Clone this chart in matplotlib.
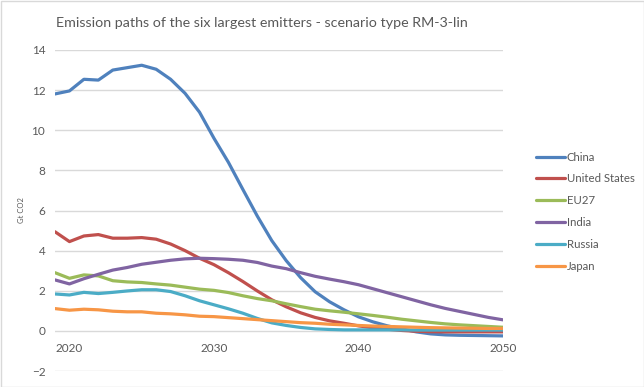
import matplotlib.pyplot as plt
from matplotlib.patches import Rectangle
import numpy as np

years = np.arange(2019, 2051)

china = [11.81, 11.96, 12.54, 12.50, 13.00, 13.12, 13.24, 13.04, 12.54, 11.84,
         10.90, 9.60, 8.40, 7.05, 5.72, 4.50, 3.50, 2.65, 1.95, 1.45,
         1.05, 0.70, 0.45, 0.25, 0.10, -0.05, -0.15, -0.20, -0.22, -0.23,
         -0.24, -0.25]
united_states = [4.94, 4.45, 4.73, 4.80, 4.62, 4.62, 4.65, 4.57, 4.33, 4.00,
                 3.62, 3.30, 2.90, 2.46, 1.99, 1.55, 1.20, 0.90, 0.67, 0.50,
                 0.38, 0.25, 0.15, 0.08, 0.02, -0.02, -0.04, -0.05, -0.05, -0.05,
                 -0.05, -0.05]
eu27 = [2.90, 2.62, 2.79, 2.74, 2.50, 2.44, 2.41, 2.34, 2.28, 2.18,
        2.08, 2.02, 1.91, 1.75, 1.61, 1.50, 1.35, 1.21, 1.08, 1.00,
        0.93, 0.85, 0.77, 0.68, 0.58, 0.50, 0.42, 0.35, 0.30, 0.26,
        0.22, 0.18]
india = [2.54, 2.34, 2.60, 2.82, 3.03, 3.16, 3.32, 3.42, 3.52, 3.59,
         3.62, 3.60, 3.57, 3.52, 3.41, 3.23, 3.10, 2.90, 2.72, 2.58,
         2.45, 2.30, 2.10, 1.90, 1.70, 1.50, 1.30, 1.12, 0.97, 0.82,
         0.67, 0.55]
russia = [1.84, 1.79, 1.92, 1.86, 1.92, 1.99, 2.05, 2.05, 1.96, 1.75,
          1.50, 1.30, 1.10, 0.88, 0.62, 0.40, 0.27, 0.17, 0.10, 0.07,
          0.05, 0.05, 0.05, 0.05, 0.05, 0.04, 0.04, 0.04, 0.04, 0.04,
          0.04, 0.04]
japan = [1.11, 1.03, 1.08, 1.05, 0.98, 0.95, 0.95, 0.88, 0.85, 0.80,
         0.73, 0.71, 0.66, 0.61, 0.56, 0.51, 0.46, 0.41, 0.38, 0.33,
         0.30, 0.27, 0.24, 0.22, 0.20, 0.18, 0.16, 0.15, 0.14, 0.13,
         0.12, 0.12]

series = [
    ("China", china, "#4F81BD"),
    ("United States", united_states, "#C0504D"),
    ("EU27", eu27, "#9BBB59"),
    ("India", india, "#8064A2"),
    ("Russia", russia, "#4BACC6"),
    ("Japan", japan, "#F79646"),
]

plt.rcParams['font.family'] = ['Lato', 'DejaVu Sans']
text_color = "#595959"

fig = plt.figure(figsize=(6.44, 3.87), dpi=100)
ax = fig.add_axes([55 / 644, 1 - 371 / 387, 448 / 644, 321 / 387])

for name, vals, col in series:
    ax.plot(years, vals, color=col, lw=2.3, label=name, solid_capstyle='round')

ax.set_xlim(2019, 2050)
ax.set_ylim(-2, 14)
ax.set_yticks(np.arange(-2, 15, 2))
ax.set_xticks([2020, 2030, 2040, 2050])
ax.grid(axis='y', color='#D9D9D9', lw=1)
ax.set_axisbelow(True)
for s in ax.spines.values():
    s.set_visible(False)
# category labels sit just under the zero line, like Excel does
ax.spines['bottom'].set_position(('data', 0))
ax.tick_params(length=0, colors=text_color, labelsize=8.5)
ax.tick_params(axis='x', pad=9)
ax.tick_params(axis='y', pad=7)

ax.set_ylabel("Gt CO2", fontsize=5.5, color=text_color, labelpad=5)

fig.suptitle("Emission paths of the six largest emitters - scenario type RM-3-lin",
             x=262 / 644, y=1 - 23 / 387, va='center', fontsize=10.3, color=text_color)

fig.legend(loc='upper left', bbox_to_anchor=(531 / 644, 1 - 147 / 387),
           frameon=False, fontsize=8.2, labelcolor=text_color, handlelength=2.6,
           handletextpad=0.15, labelspacing=0.95, borderaxespad=0)

fig.patches.append(Rectangle((0.5 / 644, 0.5 / 387), 1 - 1 / 644, 1 - 1 / 387,
                             transform=fig.transFigure, fill=False,
                             edgecolor='#D9D9D9', lw=1))

fig.savefig("out.png", dpi=100)
